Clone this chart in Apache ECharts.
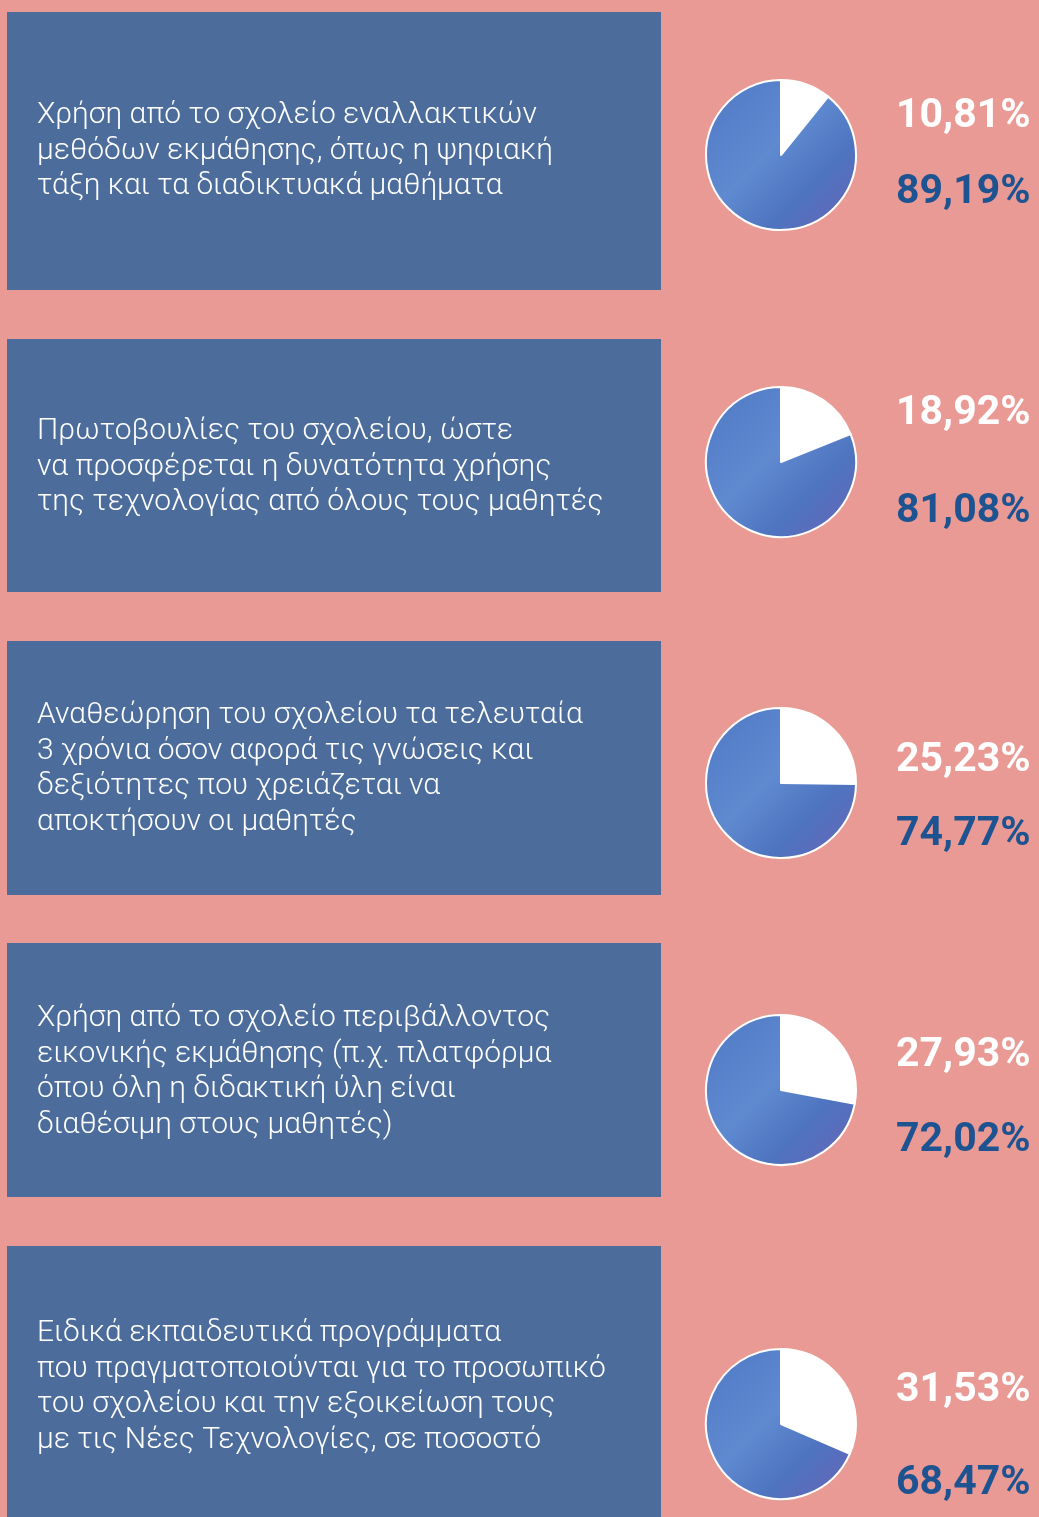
<!DOCTYPE html>
<html>
<head>
<meta charset="utf-8">
<script src="https://cdn.jsdelivr.net/npm/echarts@6/dist/echarts.min.js"></script>
<style>
  html, body { margin: 0; padding: 0; background: #ea9a94; }
  #main { width: 1039px; height: 1517px; }
</style>
</head>
<body>
<div id="main"></div>
<script>
  // questions shown in the blue boxes
  var questions = [
    'Χρήση από το σχολείο εναλλακτικών\nμεθόδων εκμάθησης, όπως η ψηφιακή\nτάξη και τα διαδικτυακά μαθήματα',
    'Πρωτοβουλίες του σχολείου, ώστε\nνα προσφέρεται η δυνατότητα χρήσης\nτης τεχνολογίας από όλους τους μαθητές',
    'Αναθεώρηση του σχολείου τα τελευταία\n3 χρόνια όσον αφορά τις γνώσεις και\nδεξιότητες που χρειάζεται να\nαποκτήσουν οι μαθητές',
    'Χρήση από το σχολείο περιβάλλοντος\nεικονικής εκμάθησης (π.χ. πλατφόρμα\nόπου όλη η διδακτική ύλη είναι\nδιαθέσιμη στους μαθητές)',
    'Ειδικά εκπαιδευτικά προγράμματα\nπου πραγματοποιούνται για το προσωπικό\nτου σχολείου και την εξοικείωση τους\nμε τις Νέες Τεχνολογίες, σε ποσοστό'
  ];
  var whiteShare = [10.81, 18.92, 25.23, 27.93, 31.53];
  var blueShare = [89.19, 81.08, 74.77, 72.02, 68.47];

  // layout of each row
  var boxes = [[12, 290], [339, 592], [641, 895], [943, 1197], [1246, 1517]];
  var textY = [151, 467, 769, 1072, 1387];
  var pieY = [155, 462, 783, 1090, 1424];
  var whiteLabelY = [117, 414, 761, 1056, 1391];
  var blueLabelY = [193, 512, 835, 1141, 1484];

  function fmt(v) { return v.toFixed(2).replace('.', ',') + '%'; }

  var blueFill = new echarts.graphic.LinearGradient(0, 0, 1, 1, [
    { offset: 0, color: '#4f78c4' },
    { offset: 0.45, color: '#5f8ad0' },
    { offset: 0.7, color: '#4e74c0' },
    { offset: 1, color: '#6a63b6' }
  ]);

  var graphics = [];
  var series = [];
  questions.forEach(function (q, i) {
    graphics.push({
      type: 'rect',
      shape: { x: 7, y: boxes[i][0], width: 654, height: boxes[i][1] - boxes[i][0] },
      style: { fill: '#4c6c9c' }
    });
    graphics.push({
      type: 'text',
      x: 37, y: textY[i],
      style: {
        text: q, fill: '#ffffff', font: '300 30px Roboto',
        lineHeight: 35.5, verticalAlign: 'middle'
      }
    });
    graphics.push({
      type: 'text',
      x: 896, y: whiteLabelY[i],
      style: { text: fmt(whiteShare[i]), fill: '#ffffff', font: 'bold 41px Roboto', verticalAlign: 'middle' }
    });
    graphics.push({
      type: 'text',
      x: 896, y: blueLabelY[i],
      style: { text: fmt(blueShare[i]), fill: '#1d5390', font: 'bold 41px Roboto', verticalAlign: 'middle' }
    });
    series.push({
      type: 'pie',
      center: [781, pieY[i]],
      radius: [0, 75],
      startAngle: 90,
      silent: true,
      label: { show: false },
      labelLine: { show: false },
      itemStyle: { borderColor: '#ffffff', borderWidth: 2 },
      data: [
        { value: whiteShare[i], itemStyle: { color: '#ffffff' } },
        { value: blueShare[i], itemStyle: { color: blueFill } }
      ]
    });
  });

  var myChart = echarts.init(document.getElementById('main'));
  myChart.setOption({
    backgroundColor: '#ea9a94',
    animation: false,
    graphic: graphics,
    series: series
  });
</script>
</body>
</html>
